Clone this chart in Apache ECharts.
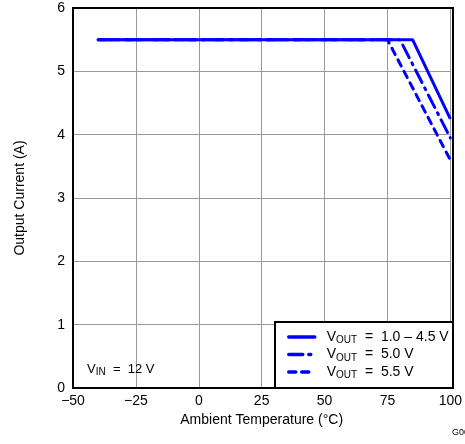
<!DOCTYPE html>
<html><head><meta charset="utf-8">
<script src="https://cdn.jsdelivr.net/npm/echarts@6/dist/echarts.min.js"></script>
<style>html,body{margin:0;padding:0;background:#fff}#c{width:465px;height:444px}</style>
</head><body><div id="c"></div>
<script>
var xTicks = [-50, -25, 0, 25, 50, 75, 100];
var yTicks = [0, 1, 2, 3, 4, 5, 6];
var names = ['V{s|OUT}  =  1.0 – 4.5 V', 'V{s|OUT}  =  5.0 V', 'V{s|OUT}  =  5.5 V'];
var temp10to45 = [-40, 85, 100];
var curr10to45 = [5.5, 5.5, 4.25];
var temp50 = [-40, 80, 100];
var curr50 = [5.5, 5.5, 3.95];
var temp55 = [-40, 75, 100];
var curr55 = [5.5, 5.5, 3.6];

function pairs(xs, ys){ return xs.map(function(x,i){return [x, ys[i]];}); }
var F = 'Liberation Sans, Arial, sans-serif';
var chart = echarts.init(document.getElementById('c'), null, {renderer:'canvas'});
var blue = '#0000ff';
chart.setOption({
  animation:false,
  grid:{left:73, top:8, right:12, bottom:56, containLabel:false},
  xAxis:{type:'value', min:xTicks[0], max:xTicks[xTicks.length-1], interval:25,
    name:'Ambient Temperature (°C)', nameLocation:'middle', nameGap:23,
    nameTextStyle:{fontFamily:F, fontSize:14, color:'#000'},
    axisLine:{show:false}, axisTick:{show:false},
    axisLabel:{fontFamily:F, fontSize:14, color:'#000', margin:6,
      formatter:function(v){return v<0 ? '−'+Math.abs(v) : String(v);}},
    splitLine:{show:true, lineStyle:{color:'#999', width:1}}},
  yAxis:{type:'value', min:yTicks[0], max:yTicks[yTicks.length-1], interval:1,
    name:'Output Current (A)', nameLocation:'middle', nameGap:46, nameRotate:90,
    nameTextStyle:{fontFamily:F, fontSize:14, color:'#000'},
    axisLine:{show:false}, axisTick:{show:false},
    axisLabel:{fontFamily:F, fontSize:14, color:'#000', margin:8},
    splitLine:{show:true, lineStyle:{color:'#999', width:1}}},
  legend:{show:true, orient:'vertical', left:287, top:330, padding:0, itemWidth:26, itemHeight:14, itemGap:2,
    data:names,
    itemStyle:{opacity:0, borderWidth:0},
    lineStyle:{width:3.5, cap:'round'},
    textStyle:{fontFamily:F, fontSize:14, color:'#000', padding:[0,0,0,7],
      rich:{s:{fontFamily:F, fontSize:10, verticalAlign:'bottom', padding:[7,0,0,0]}}}},
  graphic:[
    {type:'rect', z:5, shape:{x:73, y:8, width:380, height:380}, style:{fill:'none', stroke:'#000', lineWidth:2}},
    {type:'rect', z:3, shape:{x:275, y:322, width:178, height:66}, style:{fill:'#fff', stroke:'#000', lineWidth:2}},
    {type:'text', z:5, left:87, top:363, style:{text:'V{s|IN}  =  12 V', font:'13px '+F, fill:'#000',
      rich:{s:{fontFamily:F, fontSize:10, verticalAlign:'bottom', padding:[6,0,0,0]}}}},
    {type:'text', z:5, left:452, top:428, style:{text:'G00', font:'9px '+F, fill:'#000'}}
  ],
  series:[
    {name:names[2], type:'line', data:pairs(temp55, curr55), symbol:'none', z:2,
      lineStyle:{color:blue, width:3, type:[7,6], cap:'round'}, itemStyle:{color:blue}},
    {name:names[1], type:'line', data:pairs(temp50, curr50), symbol:'none', z:2,
      lineStyle:{color:blue, width:3, type:[14,6,2,6], cap:'round'}, itemStyle:{color:blue}},
    {name:names[0], type:'line', data:pairs(temp10to45, curr10to45), symbol:'none', z:2,
      lineStyle:{color:blue, width:3}, itemStyle:{color:blue}}
  ]
});
</script></body></html>
